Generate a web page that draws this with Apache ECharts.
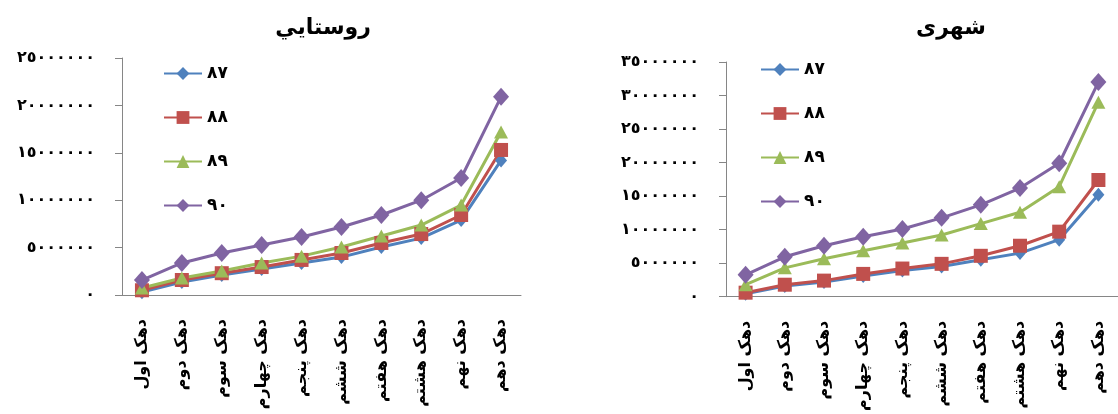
<!DOCTYPE html>
<html>
<head>
<meta charset="utf-8">
<script src="https://cdn.jsdelivr.net/npm/echarts@6/dist/echarts.min.js"></script>
<style>
  html, body { margin: 0; padding: 0; background: #fff; }
  #chart { width: 1118px; height: 414px; }
</style>
</head>
<body>
<div id="chart"></div>
<script>
// Income by decile, rural (left) and urban (right), years 87–90
const deciles = ['دهک اول', 'دهک دوم', 'دهک سوم', 'دهک چهارم', 'دهک پنجم',
                 'دهک ششم', 'دهک هفتم', 'دهک هشتم', 'دهک نهم', 'دهک دهم'];
const years = ['۸۷', '۸۸', '۸۹', '۹۰'];

const rural87 = [300000, 1370000, 2100000, 2740000, 3380000, 4000000, 5060000, 6000000, 7900000, 14200000];
const rural88 = [500000, 1580000, 2300000, 2950000, 3700000, 4430000, 5490000, 6430000, 8440000, 15300000];
const rural89 = [740000, 1790000, 2530000, 3380000, 4100000, 5060000, 6220000, 7380000, 9490000, 17200000];
const rural90 = [1580000, 3380000, 4430000, 5270000, 6120000, 7170000, 8440000, 10000000, 12340000, 20900000];

const urban87 = [450000, 1600000, 2200000, 3100000, 3900000, 4500000, 5500000, 6500000, 8500000, 15200000];
const urban88 = [600000, 1790000, 2400000, 3400000, 4200000, 4900000, 6100000, 7600000, 9700000, 17400000];
const urban89 = [1790000, 4300000, 5650000, 6850000, 8000000, 9200000, 10900000, 12600000, 16400000, 29000000];
const urban90 = [3270000, 5950000, 7590000, 8930000, 10100000, 11760000, 13700000, 16200000, 19900000, 32000000];

const ruralTitle = 'روستايي';
const urbanTitle = 'شهری';

const colors = ['#4F81BD', '#C0504D', '#9BBB59', '#8064A2'];
const symbols = ['diamond', 'rect', 'triangle', 'diamond'];
const symbolSizes = [[12, 14], [14, 14], [14, 13], [16, 18]];

const FONT = 'DejaVu Sans';
const faDigits = ['٠', '١', '٢', '٣', '٤', '٥', '٦', '٧', '٨', '٩'];
const toFa = v => String(v).replace(/\d/g, d => faDigits[+d]);

function xAxisFor(gridIndex) {
  return {
    type: 'category', gridIndex, data: deciles, boundaryGap: true,
    axisLine: { lineStyle: { color: '#868686', width: 1 } },
    axisTick: { length: 6, lineStyle: { color: '#868686' }, alignWithLabel: false },
    axisLabel: { rotate: 90, margin: 24, color: '#000', fontFamily: FONT, fontSize: 16, fontWeight: 'bold' }
  };
}
function yAxisFor(gridIndex, max) {
  return {
    type: 'value', gridIndex, min: 0, max, interval: 5000000,
    splitLine: { show: false },
    axisLine: { show: true, lineStyle: { color: '#868686', width: 1 } },
    axisTick: { show: true, length: 7, inside: false, lineStyle: { color: '#868686' } },
    axisLabel: { margin: 27, color: '#000', fontFamily: FONT, fontSize: 16, fontWeight: 'bold',
                 padding: [0, 0, 10, 0], formatter: toFa }
  };
}
function seriesFor(gridIndex, datasets) {
  return datasets.map((d, i) => ({
    name: years[i], type: 'line', xAxisIndex: gridIndex, yAxisIndex: gridIndex,
    data: d, symbol: symbols[i], symbolSize: symbolSizes[i], showAllSymbol: true,
    lineStyle: { color: colors[i], width: 3 }, itemStyle: { color: colors[i] },
    animation: false
  }));
}
function legendFor(left, top) {
  return {
    orient: 'vertical', left, top, itemWidth: 38, itemHeight: 16, itemGap: 27,
    data: years, selectedMode: false,
    textStyle: { color: '#000', fontFamily: FONT, fontSize: 17, fontWeight: 'bold' }
  };
}

const chart = echarts.init(document.getElementById('chart'), null, { renderer: 'canvas' });
chart.setOption({
  animation: false,
  title: [
    { text: ruralTitle, left: 318, top: 12, textAlign: 'center',
      textStyle: { fontFamily: FONT, fontSize: 22, fontWeight: 'bold', color: '#000' } },
    { text: urbanTitle, left: 946, top: 12, textAlign: 'center',
      textStyle: { fontFamily: FONT, fontSize: 22, fontWeight: 'bold', color: '#000' } }
  ],
  legend: [legendFor(158, 60), legendFor(755, 56)],
  grid: [
    { left: 122, top: 58, width: 399, height: 237 },
    { left: 726, top: 62, width: 400, height: 235 }
  ],
  xAxis: [xAxisFor(0), xAxisFor(1)],
  yAxis: [yAxisFor(0, 25000000), yAxisFor(1, 35000000)],
  series: [
    ...seriesFor(0, [rural87, rural88, rural89, rural90]),
    ...seriesFor(1, [urban87, urban88, urban89, urban90])
  ]
});
</script>
</body>
</html>
